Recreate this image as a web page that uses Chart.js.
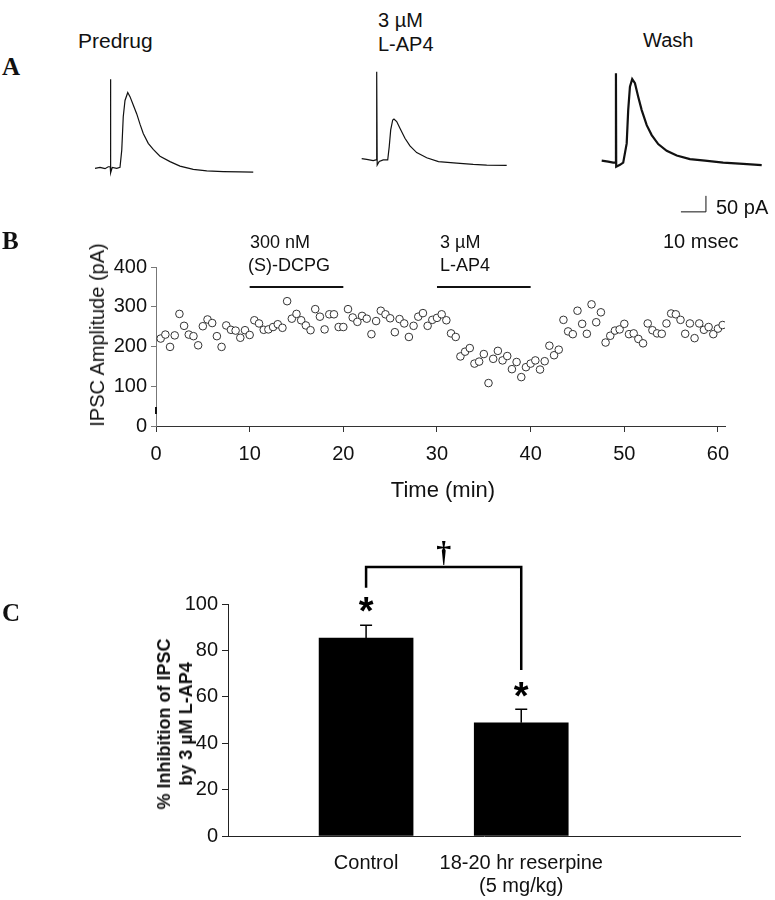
<!DOCTYPE html>
<html><head><meta charset="utf-8">
<script src="https://cdn.jsdelivr.net/npm/chart.js@4.4.1/dist/chart.umd.min.js"></script>
<style>
body{margin:0;background:#fff;}
#fig{position:relative;width:775px;height:900px;overflow:hidden;font-family:"Liberation Sans",Arial,sans-serif;color:#111;}
canvas{position:absolute;}
.t{position:absolute;white-space:nowrap;line-height:1;transform:translateY(-50%);font-size:20px;}
.L{font-family:"Liberation Serif","Times New Roman",serif;font-weight:bold;font-size:25px;}
</style></head><body>
<div id="fig">
  <canvas id="a1" width="180" height="125" style="left:85px;top:60px"></canvas>
  <canvas id="a2" width="170" height="125" style="left:350px;top:60px"></canvas>
  <canvas id="a3" width="185" height="160" style="left:590px;top:60px"></canvas>
  <canvas id="b" width="775" height="260" style="left:0px;top:250px"></canvas>
  <canvas id="c" width="775" height="360" style="left:0px;top:540px"></canvas>

  <div class="t L" style="left:2px;top:66px">A</div>
  <div class="t L" style="left:2px;top:240px">B</div>
  <div class="t L" style="left:2px;top:612px">C</div>

  <div class="t" style="left:78px;top:40px;font-size:21px">Predrug</div>
  <div class="t" style="left:378px;top:20px">3 µM</div>
  <div class="t" style="left:378px;top:44px">L-AP4</div>
  <div class="t" style="left:643px;top:40px">Wash</div>
  <div class="t" style="left:716px;top:207px;font-size:20px">50 pA</div>
  <div class="t" style="left:663px;top:241px;font-size:20px">10 msec</div>

  <div class="t" style="left:250px;top:242px;font-size:18px">300 nM</div>
  <div class="t" style="left:248px;top:265px;font-size:18px">(S)-DCPG</div>
  <div class="t" style="left:440px;top:242px;font-size:18px">3 µM</div>
  <div class="t" style="left:440px;top:265px;font-size:18px">L-AP4</div>
  <div class="t" style="left:97px;top:335px;transform:translate(-50%,-50%) rotate(-90deg);font-size:20px;">IPSC Amplitude (pA)</div>
  <div class="t" style="left:443px;top:490px;transform:translate(-50%,-50%);font-size:22px;">Time (min)</div>

  <div class="t" style="left:175px;top:724px;transform:translate(-50%,-50%) rotate(-90deg);font-weight:bold;font-size:18px;line-height:22px;text-align:center;">% Inhibition of IPSC<br>by 3 µM L-AP4</div>
</div>
<script>
// ---------- Panel A: example IPSC traces (time in ms, current in pA relative to baseline) ----------
const predrugT = [0,2,4,5.3,6.1,6.2,6.3,6.9,8.7,10,10.7,11.3,12,13.1,14,15.3,16.7,18,19.3,21.3,23.3,26,30,34,39.3,44.7,51.3,58,63.3];
const predrugI = [-1,2,-2,4,4,277,-15,2,-1,2,56,160,211,236,223,197,169,137,108,77,58,37,20,6,-4,-9,-11,-12,-13];
const lap4T = [0,2,4.6,5.7,5.95,6.0,6.2,7.0,8.6,10.4,11.0,11.6,12.4,12.9,14,15.3,17.3,19.3,22,26,30.7,38,44.6,50,58];
const lap4I = [1,-1,-5,-3,-3,273,-19,-8,-3,-3,38,91,122,125,117,96,65,41,20,4,-8,-13,-17,-19,-20];
const washT = [0,2.6,4.6,5.6,5.7,5.8,7.3,8.6,10,10.6,11.3,12.2,13.3,14.6,16,18,20,22.6,26,30,35.3,41.3,48.6,56.6,64];
const washI = [1,-2,-5,-5,274,-18,-12,-5,55,159,232,256,243,201,159,112,81,53,32,17,6,1,-5,-9,-13];
// scale bar: 10 ms x 50 pA
const scaleBarT = [31.7,41.7,41.7];
const scaleBarI = [-159,-159,-109];

// ---------- Panel B: IPSC amplitude time course ----------
const timesMin = [0.5,1,1.5,2,2.5,3,3.5,4,4.5,5,
 5.5,6,6.5,7,7.5,8,8.5,9,9.5,10,
 10.5,11,11.5,12,12.5,13,13.5,14,14.5,15,
 15.5,16,16.5,17,17.5,18,18.5,19,19.5,20,
 20.5,21,21.5,22,22.5,23,23.5,24,24.5,25,
 25.5,26,26.5,27,27.5,28,28.5,29,29.5,30,
 30.5,31,31.5,32,32.5,33,33.5,34,34.5,35,
 35.5,36,36.5,37,37.5,38,38.5,39,39.5,40,
 40.5,41,41.5,42,42.5,43,43.5,44,44.5,45,
 45.5,46,46.5,47,47.5,48,48.5,49,49.5,50,
 50.5,51,51.5,52,52.5,53,53.5,54,54.5,55,
 55.5,56,56.5,57,57.5,58,58.5,59,59.5,60,
 60.5];
const ipscAmp = [220,230,199,228,282,252,230,226,203,251,
 268,259,226,199,253,242,240,222,241,229,
 266,258,242,243,249,256,247,314,270,282,
 266,253,241,294,275,243,281,281,249,249,
 294,273,262,277,270,231,264,290,281,271,
 236,269,258,224,252,275,284,252,267,272,
 281,266,233,224,175,187,196,157,162,181,
 108,169,189,165,176,143,161,123,148,157,
 165,142,163,202,178,192,267,238,231,290,
 257,232,306,261,286,210,227,240,243,257,
 231,233,219,208,258,241,233,232,258,283,
 281,267,232,258,221,258,242,249,231,245,
 254];
const dcpgBar = {start:10, end:20, level:350};
const lap4Bar = {start:30, end:40, level:350};
const xTicksB = [0,10,20,30,40,50,60];
const yTicksB = [0,100,200,300,400];

// ---------- Panel C: % inhibition ----------
const groups = ['Control', ['18-20 hr reserpine','(5 mg/kg)']];
const groupPos = [1,2];
const inhibMean = [85.3, 48.8];
const inhibSEM = [5.5, 5.8];
const yTicksC = [0,20,40,60,80,100];
const sigStars = [101.3, 64.7];
const bracketT = [1,1,2,2];
const bracketV = [107,116,116,71.5];
const daggerAt = {x:1.5, y:122};

Chart.defaults.font.family = '"Liberation Sans", Arial, sans-serif';
Chart.defaults.color = '#111';

function traceChart(id, T, I, xr, yr, lw, extra) {
  const ds = [{data:T.map((t,i)=>({x:t,y:I[i]})), borderColor:'#111', borderWidth:lw, pointRadius:0, tension:0, clip:false}];
  if (extra) ds.push(extra);
  new Chart(document.getElementById(id), {
    type:'line',
    data:{datasets:ds},
    options:{responsive:false, animation:false, devicePixelRatio:1,
      layout:{padding:0},
      plugins:{legend:{display:false}, tooltip:{enabled:false}},
      scales:{x:{type:'linear', display:false, min:xr[0], max:xr[1]}, y:{display:false, min:yr[0], max:yr[1]}}
    }
  });
}
traceChart('a1', predrugT, predrugI, [-4,68], [-53.1,337.5], 1.2);
traceChart('a2', lap4T, lap4I, [-4.68,63.32], [-81.25,309.4], 1.2);
traceChart('a3', washT, washI, [-4.68,69.32], [-184.4,315.6], 2.2,
  {data:scaleBarT.map((t,i)=>({x:t,y:scaleBarI[i]})), borderColor:'#111', borderWidth:1, pointRadius:0, tension:0, clip:false});

// Panel B
new Chart(document.getElementById('b'), {
  type:'scatter',
  data:{datasets:[
    {data:timesMin.map((t,i)=>({x:t,y:ipscAmp[i]})), pointRadius:3.8, pointHoverRadius:3.8, pointBorderWidth:1, borderColor:'#333', backgroundColor:'#fff'},
    {data:[{x:dcpgBar.start,y:dcpgBar.level},{x:dcpgBar.end,y:dcpgBar.level}], showLine:true, borderColor:'#111', borderWidth:2, pointRadius:0},
    {data:[{x:lap4Bar.start,y:lap4Bar.level},{x:lap4Bar.end,y:lap4Bar.level}], showLine:true, borderColor:'#111', borderWidth:2, pointRadius:0},
    {data:[{x:0,y:30},{x:0,y:48}], showLine:true, borderColor:'#111', borderWidth:2, pointRadius:0, clip:false}
  ]},
  options:{responsive:false, animation:false, devicePixelRatio:1,
    layout:{padding:{top:17, right:50, left:0, bottom:0}},
    plugins:{legend:{display:false}, tooltip:{enabled:false}},
    scales:{
      x:{type:'linear', min:0, max:60.75,
        afterBuildTicks:s=>{s.ticks = xTicksB.map(v=>({value:v}));},
        ticks:{font:{size:20}, color:'#111', padding:10, maxRotation:0},
        grid:{drawOnChartArea:false, tickLength:6, color:'#333'},
        border:{color:'#333', width:1},
        afterFit:s=>{s.height = 84;}},
      y:{min:0, max:400,
        afterBuildTicks:s=>{s.ticks = yTicksB.map(v=>({value:v}));},
        ticks:{font:{size:20}, color:'#111', padding:4},
        grid:{drawOnChartArea:false, tickLength:5, color:'#777'},
        border:{color:'#777', width:1},
        afterFit:s=>{s.width = 156;}}
    }
  }
});

// Panel C
const annot = {
  id:'annot',
  afterDatasetsDraw(chart){
    const ctx = chart.ctx, xs = chart.scales.x, ys = chart.scales.y;
    ctx.save();
    ctx.strokeStyle = '#000'; ctx.lineWidth = 1.5;
    inhibMean.forEach((m,i)=>{
      const x = xs.getPixelForValue(groupPos[i]);
      const y0 = ys.getPixelForValue(m), y1 = ys.getPixelForValue(m + inhibSEM[i]);
      ctx.beginPath(); ctx.moveTo(x,y0); ctx.lineTo(x,y1);
      ctx.moveTo(x-6,y1); ctx.lineTo(x+6,y1); ctx.stroke();
    });
    ctx.fillStyle = '#000'; ctx.textAlign = 'center'; ctx.textBaseline = 'alphabetic';
    const fs = 38;
    ctx.font = 'bold ' + fs + 'px "Liberation Sans", Arial, sans-serif';
    sigStars.forEach((v,i)=>{
      ctx.fillText('*', xs.getPixelForValue(groupPos[i]), ys.getPixelForValue(v) + 0.6*fs);
    });
    const ds = 30;
    ctx.font = 'bold ' + ds + 'px "Liberation Serif", serif';
    ctx.fillText('†', xs.getPixelForValue(daggerAt.x), ys.getPixelForValue(daggerAt.y) + 0.3*ds);
    ctx.restore();
  }
};
new Chart(document.getElementById('c'), {
  type:'bar',
  data:{datasets:[
    {type:'bar', data:groupPos.map((p,i)=>({x:p,y:inhibMean[i]})), backgroundColor:'#000', borderWidth:0, barThickness:94},
    {type:'line', data:bracketT.map((t,i)=>({x:t,y:bracketV[i]})), borderColor:'#000', borderWidth:2.5, pointRadius:0, tension:0, clip:false}
  ]},
  options:{responsive:false, animation:false, devicePixelRatio:1,
    layout:{padding:{top:64, right:35, left:0, bottom:0}},
    plugins:{legend:{display:false}, tooltip:{enabled:false}},
    scales:{
      x:{type:'linear', min:0.11, max:3.41, offset:false,
        afterBuildTicks:s=>{s.ticks = groupPos.map(v=>({value:v}));},
        ticks:{font:{size:20, lineHeight:1.15}, color:'#111', padding:8, maxRotation:0, callback:(v)=>groups[groupPos.indexOf(v)]},
        grid:{display:false},
        border:{display:true, color:'#222', width:1},
        afterFit:s=>{s.height = 64;}},
      y:{min:0, max:100,
        afterBuildTicks:s=>{s.ticks = yTicksC.map(v=>({value:v}));},
        ticks:{font:{size:20}, color:'#111', padding:4},
        grid:{drawOnChartArea:false, tickLength:6, color:'#222'},
        border:{color:'#222', width:1},
        afterFit:s=>{s.height; s.width = 228;}}
    }
  },
  plugins:[annot]
});
</script>
</body></html>
